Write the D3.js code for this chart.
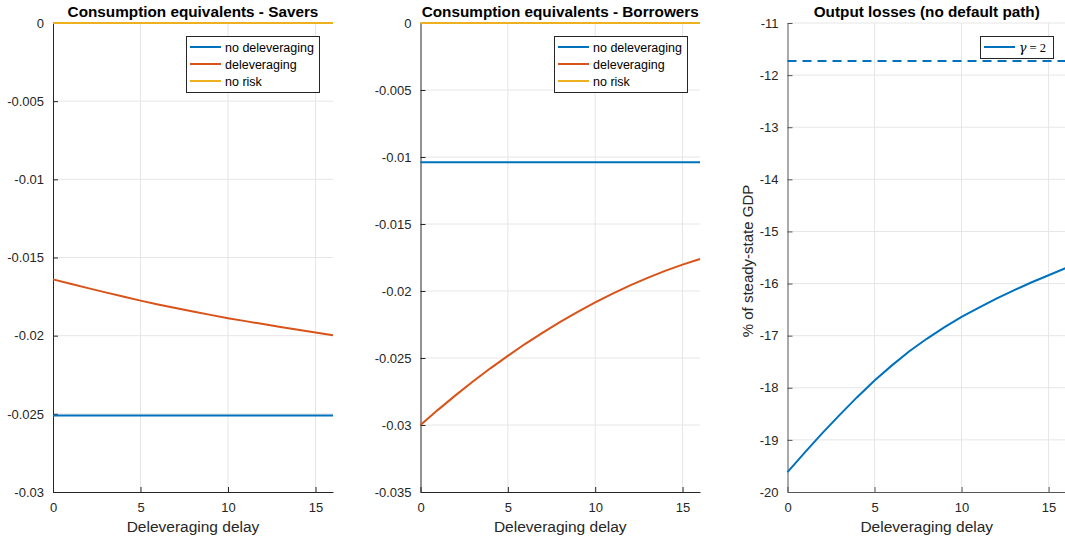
<!DOCTYPE html>
<html><head><meta charset="utf-8">
<script src="https://cdn.jsdelivr.net/npm/d3@7"></script>
<style>
body{margin:0;background:#fff;}
svg{display:block;font-family:"Liberation Sans",Arial,Helvetica,sans-serif;}
</style></head>
<body><svg id="c" width="1065" height="542"></svg>
<script>
const delay = [0,1,2,3,4,5,6,7,8,9,10,11,12,13,14,15,16];

// Panel 1: Savers
const saversNoDelev = [-0.0251,-0.0251,-0.0251,-0.0251,-0.0251,-0.0251,-0.0251,-0.0251,-0.0251,-0.0251,-0.0251,-0.0251,-0.0251,-0.0251,-0.0251,-0.0251,-0.0251];
const saversDelev = [-0.01640,-0.01668,-0.01696,-0.01723,-0.01750,-0.01776,-0.01800,-0.01823,-0.01846,-0.01867,-0.01888,-0.01907,-0.01926,-0.01944,-0.01962,-0.01980,-0.01998];
const saversNoRisk = [0,0,0,0,0,0,0,0,0,0,0,0,0,0,0,0,0];
const saversYTicks = [0,-0.005,-0.01,-0.015,-0.02,-0.025,-0.03];
const saversYLabels = ["0","-0.005","-0.01","-0.015","-0.02","-0.025","-0.03"];

// Panel 2: Borrowers
const borrowersNoDelev = [-0.0104,-0.0104,-0.0104,-0.0104,-0.0104,-0.0104,-0.0104,-0.0104,-0.0104,-0.0104,-0.0104,-0.0104,-0.0104,-0.0104,-0.0104,-0.0104,-0.0104];
const borrowersDelev = [-0.03000,-0.02887,-0.02779,-0.02676,-0.02577,-0.02484,-0.02394,-0.02310,-0.02230,-0.02155,-0.02085,-0.02019,-0.01958,-0.01902,-0.01850,-0.01803,-0.01761];
const borrowersNoRisk = [0,0,0,0,0,0,0,0,0,0,0,0,0,0,0,0,0];
const borrowersYTicks = [0,-0.005,-0.01,-0.015,-0.02,-0.025,-0.03,-0.035];
const borrowersYLabels = ["0","-0.005","-0.01","-0.015","-0.02","-0.025","-0.03","-0.035"];

// Panel 3: Output losses
const outputGamma2 = [-19.62,-19.24,-18.87,-18.52,-18.18,-17.86,-17.57,-17.30,-17.06,-16.84,-16.64,-16.46,-16.29,-16.13,-15.98,-15.84,-15.70];
const outputNoDefault = [-11.73,-11.73,-11.73,-11.73,-11.73,-11.73,-11.73,-11.73,-11.73,-11.73,-11.73,-11.73,-11.73,-11.73,-11.73,-11.73,-11.73];
const outputYTicks = [-11,-12,-13,-14,-15,-16,-17,-18,-19,-20];
const outputYLabels = ["-11","-12","-13","-14","-15","-16","-17","-18","-19","-20"];

const xTicks = [0,5,10,15];
const xTickLabels = ["0","5","10","15"];
const titles = ["Consumption equivalents - Savers","Consumption equivalents - Borrowers","Output losses (no default path)"];
const legendLabels = ["no deleveraging","deleveraging","no risk"];

const C1 = "#0072BD", C2 = "#D95319", C3 = "#EDB120";
const svg = d3.select("#c");
const plotTop = 23, plotBottom = 492;

function panel(opt){
  const g = svg.append("g");
  const x = d3.scaleLinear().domain([0,16]).range([opt.x0, opt.x1]);
  const y = d3.scaleLinear().domain([opt.ymin, opt.ymax]).range([plotBottom, plotTop]);
  // grid
  g.selectAll(".gx").data(xTicks.filter(v=>v>0)).enter().append("line")
    .attr("x1",d=>x(d)).attr("x2",d=>x(d)).attr("y1",plotTop).attr("y2",plotBottom)
    .attr("stroke","#e6e6e6").attr("stroke-width",1);
  g.selectAll(".gy").data(opt.yTicks.filter(v=>v!==opt.ymin)).enter().append("line")
    .attr("x1",opt.x0).attr("x2",opt.x1).attr("y1",d=>y(d)).attr("y2",d=>y(d))
    .attr("stroke","#e6e6e6").attr("stroke-width",1);
  // axes
  const ax = d3.axisBottom(x).tickValues(xTicks).tickFormat((d,i)=>xTickLabels[i]).tickSizeInner(-5).tickSizeOuter(0).tickPadding(11);
  const gx = g.append("g").attr("transform",`translate(0,${plotBottom})`).call(ax);
  const ay = d3.axisLeft(y).tickValues(opt.yTicks).tickFormat((d,i)=>opt.yLabels[i]).tickSizeInner(-5).tickSizeOuter(0).tickPadding(9);
  const gy = g.append("g").attr("transform",`translate(${opt.x0},0)`).call(ay);
  [gx,gy].forEach(a=>{
    a.select(".domain").attr("stroke",opt.axisColor).attr("stroke-width",1);
    a.selectAll(".tick line").attr("stroke",opt.axisColor);
    a.selectAll(".tick text").attr("fill","#262626").style("font-size","13px").style("font-family",'"Liberation Sans",Arial,sans-serif');
  });
  // lines
  const line = d3.line().x((d,i)=>x(delay[i])).y(d=>y(d));
  opt.series.forEach(s=>{
    g.append("path").datum(s.values).attr("d",line).attr("fill","none")
      .attr("stroke",s.color).attr("stroke-width",2)
      .attr("stroke-dasharray",s.dash||null);
  });
  // title
  g.append("text").attr("x",(opt.x0+opt.x1)/2).attr("y",17).attr("text-anchor","middle")
    .style("font-size","15.3px").style("font-weight","bold").attr("fill","#000").text(opt.title);
  // x label
  g.append("text").attr("x",(opt.x0+opt.x1)/2).attr("y",532).attr("text-anchor","middle")
    .style("font-size","15.5px").attr("fill","#262626").text("Deleveraging delay");
  return {g,x,y};
}

function legend(g, lx, ly, w, items){
  const rowH = 17, h = items.length*rowH + 5;
  g.append("rect").attr("x",lx+0.5).attr("y",ly+0.5).attr("width",w).attr("height",h)
    .attr("fill","#fff").attr("stroke","#262626").attr("stroke-width",1);
  items.forEach((it,i)=>{
    const cy = ly + 11 + i*rowH;
    g.append("line").attr("x1",lx+4).attr("x2",lx+35).attr("y1",cy).attr("y2",cy)
      .attr("stroke",it.color).attr("stroke-width",2);
    const t = g.append("text").attr("x",lx+39).attr("y",cy+4.5).style("font-size","12.5px").attr("fill","#000");
    if(it.gamma){
      t.append("tspan").style("font-family",'"DejaVu Serif","Liberation Serif",serif').style("font-style","italic").text("γ");
      t.append("tspan").style("font-family",'"Liberation Serif",serif').text(" = 2");
    } else t.text(it.label);
  });
}

const p1 = panel({x0:53,x1:333,ymin:-0.03,ymax:0,yTicks:saversYTicks,yLabels:saversYLabels,axisColor:"#262626",
  title:titles[0],series:[{values:saversNoDelev,color:C1},{values:saversDelev,color:C2},{values:saversNoRisk,color:C3}]});
legend(p1.g,186,36,133,[{label:legendLabels[0],color:C1},{label:legendLabels[1],color:C2},{label:legendLabels[2],color:C3}]);

const p2 = panel({x0:420.5,x1:700,ymin:-0.035,ymax:0,yTicks:borrowersYTicks,yLabels:borrowersYLabels,axisColor:"#262626",
  title:titles[1],series:[{values:borrowersNoDelev,color:C1},{values:borrowersDelev,color:C2},{values:borrowersNoRisk,color:C3}]});
legend(p2.g,554,36,133,[{label:legendLabels[0],color:C1},{label:legendLabels[1],color:C2},{label:legendLabels[2],color:C3}]);

const p3 = panel({x0:787.5,x1:1066,ymin:-20,ymax:-11,yTicks:outputYTicks,yLabels:outputYLabels,axisColor:"#555",
  title:titles[2],series:[{values:outputGamma2,color:C1},{values:outputNoDefault,color:C1,dash:"9,6"}]});
legend(p3.g,980,36,73,[{gamma:true,color:C1}]);
p3.g.append("text").attr("transform","translate(753,261) rotate(-90)").attr("text-anchor","middle")
  .style("font-size","15px").attr("fill","#262626").text("% of steady-state GDP");
</script></body></html>
